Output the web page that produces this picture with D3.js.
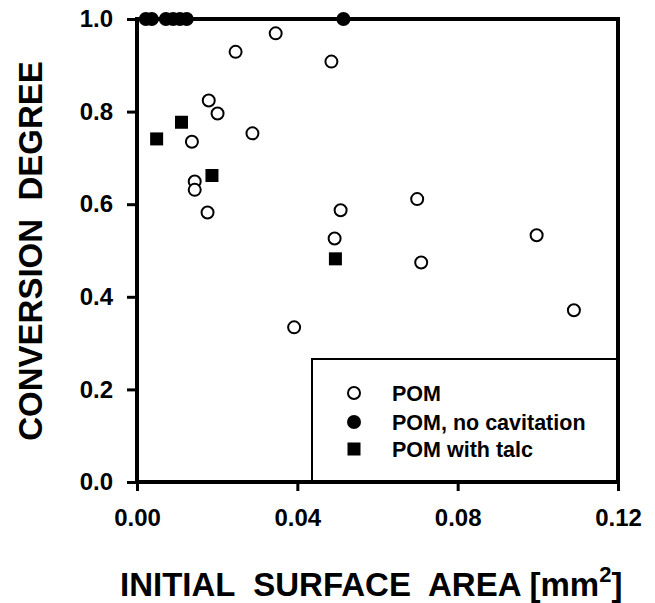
<!DOCTYPE html>
<html><head><meta charset="utf-8">
<script src="https://cdn.jsdelivr.net/npm/d3@7"></script>
<style>body{margin:0;background:#fff}svg{display:block}text{font-family:"Liberation Sans",Arial,sans-serif;font-weight:bold;fill:#000}</style>
</head><body>
<script>
const pomX = [0.0246, 0.0346, 0.0179, 0.0201, 0.0288, 0.0137, 0.0144, 0.0144, 0.0176, 0.0485, 0.0508, 0.0493, 0.0699, 0.0709, 0.0997, 0.1090, 0.0392];
const pomY = [0.929, 0.969, 0.824, 0.796, 0.753, 0.735, 0.649, 0.631, 0.582, 0.908, 0.587, 0.526, 0.611, 0.474, 0.533, 0.371, 0.334];
const noCavX = [0.0022, 0.0037, 0.0072, 0.0090, 0.0107, 0.0124, 0.0515];
const noCavY = [1.0, 1.0, 1.0, 1.0, 1.0, 1.0, 1.0];
const talcX = [0.0049, 0.0111, 0.0187, 0.0495];
const talcY = [0.741, 0.777, 0.662, 0.482];
const xTicks = [0, 0.04, 0.08, 0.12];
const yTicks = [0, 0.2, 0.4, 0.6, 0.8, 1.0];
const legendLabels = ["POM", "POM, no cavitation", "POM with talc"];
const xTitle = "INITIAL  SURFACE  AREA [mm";
const yTitle = "CONVERSION  DEGREE";

const W = 655, H = 603;
const svg = d3.select("body").append("svg").attr("width", W).attr("height", H);
const x = d3.scaleLinear().domain([0, 0.12]).range([137, 618]);
const y = d3.scaleLinear().domain([0, 1]).range([482, 19]);

// legend box
const lg = svg.append("g");
lg.append("rect").attr("x", 312).attr("y", 359).attr("width", 306).attr("height", 123)
  .attr("fill", "#fff").attr("stroke", "#000").attr("stroke-width", 2);
const rows = [393, 422, 449];
lg.append("circle").attr("cx", 354).attr("cy", rows[0]).attr("r", 6).attr("fill", "#fff").attr("stroke", "#000").attr("stroke-width", 2);
lg.append("circle").attr("cx", 354).attr("cy", rows[1]).attr("r", 7).attr("fill", "#000");
lg.append("rect").attr("x", 354 - 6.5).attr("y", rows[2] - 6.5).attr("width", 13).attr("height", 13).attr("fill", "#000");
lg.selectAll("text.lg").data(legendLabels).join("text").attr("class", "lg")
  .attr("x", 392).attr("y", (d, i) => rows[i]).attr("dy", "0.36em")
  .style("font-size", "21.5px").text(d => d);

// axes
const xAxis = d3.axisBottom(x).tickValues(xTicks).tickFormat(d3.format(".2f")).tickSize(9).tickPadding(11);
const yAxis = d3.axisLeft(y).tickValues(yTicks).tickFormat(d3.format(".1f")).tickSize(10).tickPadding(14);
const gx = svg.append("g").attr("transform", "translate(0,482)").call(xAxis);
const gy = svg.append("g").attr("transform", "translate(137,0)").call(yAxis);
[gx, gy].forEach(g => {
  g.select(".domain").remove();
  g.selectAll(".tick line").attr("stroke", "#000").attr("stroke-width", 3);
  g.selectAll(".tick text").attr("fill", "#000").style("font-size", "24px").style("font-family", '"Liberation Sans",Arial,sans-serif').style("font-weight", "bold");
});
gx.selectAll(".tick text").attr("dy", "1.0em");

// frame
svg.append("rect").attr("x", x(0)).attr("y", y(1)).attr("width", x(0.12) - x(0)).attr("height", y(0) - y(1))
  .attr("fill", "none").attr("stroke", "#000").attr("stroke-width", 4);

// data
svg.append("g").selectAll("circle").data(pomX.map((v, i) => [v, pomY[i]])).join("circle")
  .attr("cx", d => x(d[0])).attr("cy", d => y(d[1])).attr("r", 6)
  .attr("fill", "#fff").attr("stroke", "#000").attr("stroke-width", 2);
svg.append("g").selectAll("circle").data(noCavX.map((v, i) => [v, noCavY[i]])).join("circle")
  .attr("cx", d => x(d[0])).attr("cy", d => y(d[1])).attr("r", 7).attr("fill", "#000");
svg.append("g").selectAll("rect").data(talcX.map((v, i) => [v, talcY[i]])).join("rect")
  .attr("x", d => x(d[0]) - 6.5).attr("y", d => y(d[1]) - 6.5).attr("width", 13).attr("height", 13).attr("fill", "#000");

// titles
svg.append("text").attr("transform", "translate(42,251) rotate(-90)").attr("text-anchor", "middle")
  .style("font-size", "33px").style("white-space", "pre").attr("xml:space", "preserve").text(yTitle);
const xt = svg.append("text").attr("x", 120).attr("y", 596).style("font-size", "33px")
  .style("white-space", "pre").attr("xml:space", "preserve");
xt.append("tspan").text(xTitle);
xt.append("tspan").attr("dy", -14).style("font-size", "22px").text("2");
xt.append("tspan").attr("dy", 14).text("]");
</script>
</body></html>
